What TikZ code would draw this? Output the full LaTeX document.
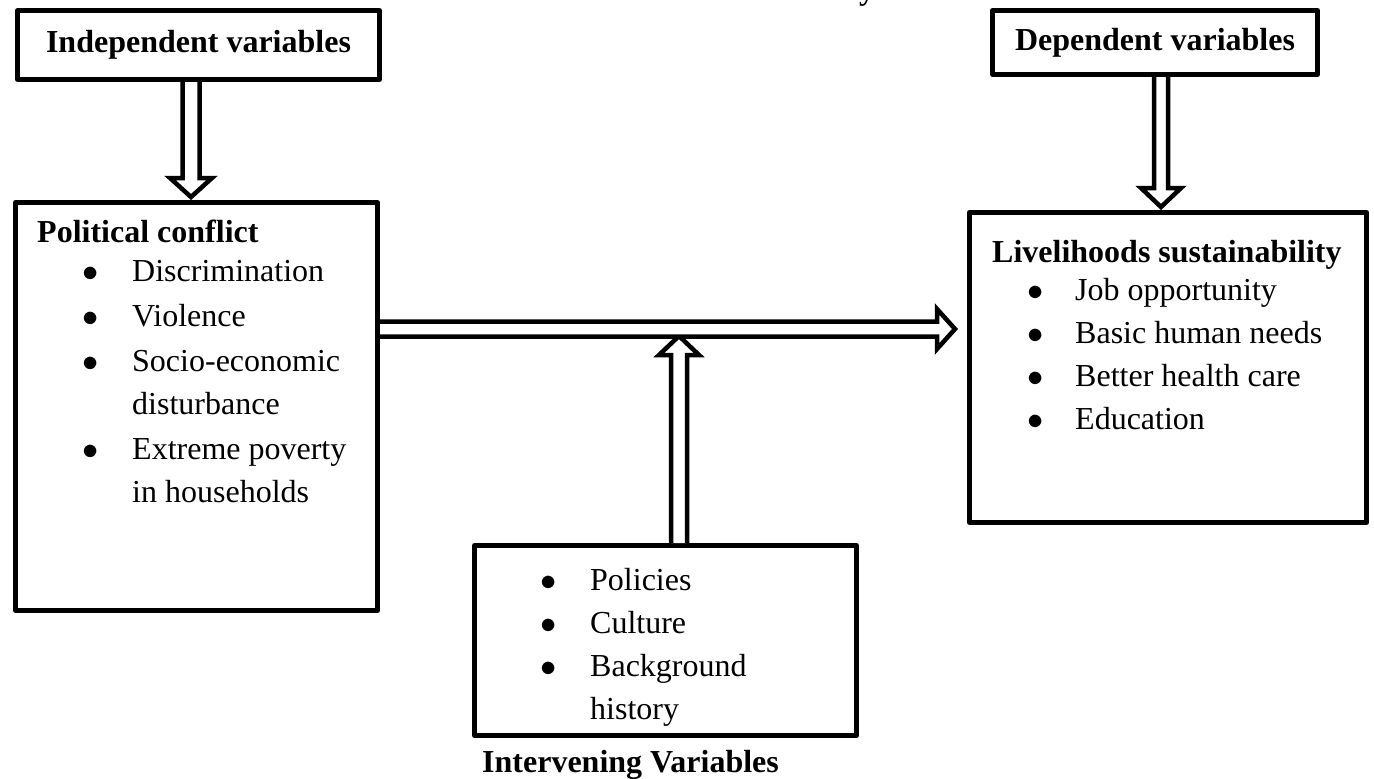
\documentclass[tikz,border=0pt]{standalone}
\usepackage{fontspec}
\usepackage{graphicx}
\setmainfont{Liberation Serif}
\usetikzlibrary{calc}
\newcommand{\bul}[1]{\makebox[#1][l]{\hspace*{-1.5pt}\scalebox{1.3}{$\bullet$}}}
\begin{document}
\begin{tikzpicture}[x=1pt,y=-1pt,
  box/.style={draw,line width=5pt,line join=round,rectangle,inner sep=0pt},
  txt/.style={font=\fontsize{32}{43}\selectfont,inner sep=0pt,align=left},
  blk/.style={draw,line width=4.5pt,fill=white,line join=miter},
]
\useasboundingbox (0,0) rectangle (1374,779);
\fill[white] (0,0) rectangle (1374,779);

% cut-off title fragment
\node[txt,font=\fontsize{32}{43}\selectfont\bfseries,anchor=base west] (frag) at (859,-1) {y};

% boxes
\node[box,minimum width=362pt,minimum height=69pt,font=\fontsize{32}{43}\selectfont\bfseries] (indep) at (198.5,45) {Independent variables};
\node[box,minimum width=325pt,minimum height=64pt,font=\fontsize{32}{43}\selectfont\bfseries] (dep) at (1155,42.5) {Dependent variables};
\node[box,minimum width=362pt,minimum height=408pt] (pol) at (196.5,406.5) {};
\node[box,minimum width=397pt,minimum height=310pt] (liv) at (1168,367.5) {};
\node[box,minimum width=382pt,minimum height=190pt] (interv) at (665.5,640.5) {};

% texts (base anchor = baseline of the last line)
\node[txt,anchor=base west] (poltxt) at (37,502) {\textbf{Political conflict}\\[-4pt]
\hspace*{47pt}\bul{48pt}Discrimination\\[2pt]
\hspace*{47pt}\bul{48pt}Violence\\[2pt]
\hspace*{47pt}\bul{48pt}Socio-economic\\
\hspace*{95pt}disturbance\\[2pt]
\hspace*{47pt}\bul{48pt}Extreme poverty\\
\hspace*{95pt}in households};

\node[txt,anchor=base west] (livtxt) at (992,429) {\textbf{Livelihoods sustainability}\\[-5pt]
\hspace*{37pt}\bul{46pt}Job opportunity\\
\hspace*{37pt}\bul{46pt}Basic human needs\\
\hspace*{37pt}\bul{46pt}Better health care\\
\hspace*{37pt}\bul{46pt}Education};

\node[txt,anchor=base west] (intxt) at (542,719) {\bul{48pt}Policies\\
\bul{48pt}Culture\\
\bul{48pt}Background\\
\hspace*{48pt}history};

\node[txt,font=\fontsize{32}{43}\selectfont\bfseries,anchor=base west] (inlbl) at (482,772) {Intervening Variables};

% arrow axes
\coordinate (a1) at (191,0);
\coordinate (a2) at (1161,0);
\coordinate (h1) at (0,329);
\coordinate (vtip) at (679,336);

% down arrow: independent -> political conflict
\draw[blk] let \p1=(indep.south -| a1), \p2=(pol.north -| a1) in
  (\x1-8.5pt,\y1) -- (\x1-8.5pt,\y2+22pt) -- (\x1-21pt,\y2+22pt) -- (\x1,\y2+3pt)
  -- (\x1+21pt,\y2+22pt) -- (\x1+8.5pt,\y2+22pt) -- (\x1+8.5pt,\y1);

% down arrow: dependent -> livelihoods
\draw[blk] let \p1=(dep.south -| a2), \p2=(liv.north -| a2) in
  (\x1-7pt,\y1) -- (\x1-7pt,\y2+22pt) -- (\x1-20pt,\y2+22pt) -- (\x1,\y2+3pt)
  -- (\x1+20pt,\y2+22pt) -- (\x1+7pt,\y2+22pt) -- (\x1+7pt,\y1);

% up arrow: intervening -> main arrow
\draw[blk] let \p1=(interv.north -| vtip), \p2=(vtip) in
  (\x1-8pt,\y1) -- (\x1-8pt,\y2-19pt) -- (\x1-20pt,\y2-19pt) -- (\x2,\y2)
  -- (\x1+20pt,\y2-19pt) -- (\x1+8pt,\y2-19pt) -- (\x1+8pt,\y1);

% horizontal arrow: political conflict -> livelihoods
\draw[blk] let \p1=(pol.east |- h1), \p2=(liv.west |- h1) in
  (\x1,\y1+7.5pt) -- (\x2-30pt,\y1+7.5pt) -- (\x2-30pt,\y1+20pt) -- (\x2-12pt,\y1)
  -- (\x2-30pt,\y1-20pt) -- (\x2-30pt,\y1-7.5pt) -- (\x1,\y1-7.5pt);
\end{tikzpicture}
\end{document}
